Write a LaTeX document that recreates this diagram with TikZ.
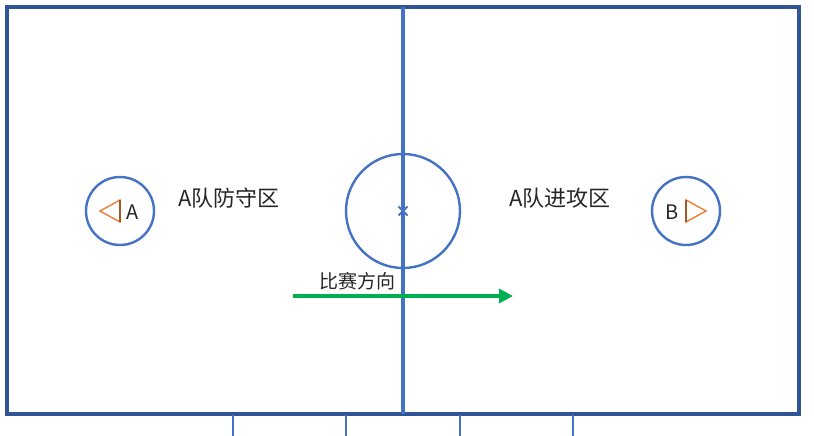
\documentclass[tikz,border=0pt]{standalone}
\usepackage{fontspec}
\setmainfont{Noto Sans CJK SC}
\usepackage{tikz}
\usetikzlibrary{arrows.meta}

\definecolor{rinkedge}{HTML}{2F5597}
\definecolor{rinkblue}{HTML}{4472C4}
\definecolor{puckorange}{HTML}{ED7D31}
\definecolor{playgreen}{HTML}{00B050}

\begin{document}
\begin{tikzpicture}[x=1pt,y=-1pt,
  ring/.style={circle,draw=rinkblue,line width=2.4pt,inner sep=0pt},
  zone/.style={font=\fontsize{22}{24}\selectfont,text=black!85},
  tick/.style={draw=rinkblue,line width=2.4pt}]
\useasboundingbox (0,0) rectangle (814,436);

% rink and centre line
\draw[rinkedge,line width=3.5pt] (7,7) rectangle (799,414);
\node[ring,minimum size=114pt] (mid) at (403,211) {};
\draw[rinkblue,line width=1.8pt] (398.5,206.5) -- (407.5,215.5) (398.5,215.5) -- (407.5,206.5);
\coordinate (ctop) at (403,7);
\coordinate (cbot) at (403,414);
\draw[rinkblue,line width=4.5pt] (ctop) -- (cbot);

% goal circles
\node[ring,minimum size=68pt] (goalA) at (120,211) {};
\node[ring,minimum size=68pt] (goalB) at (686,211) {};
\draw[puckorange,line width=1.4pt,line join=miter] (120,200) -- (100,211) -- (120,222) -- cycle;
\draw[puckorange!70!black,line width=1.4pt] (120,200) -- (120,222);
\draw[puckorange,line width=1.4pt,line join=miter] (686,200) -- (706,211) -- (686,222) -- cycle;
\draw[puckorange!70!black,line width=1.4pt] (686,200) -- (686,222);
\node[zone,font=\fontsize{20}{22}\selectfont] (labA) at (133,212) {A};
\node[zone,font=\fontsize{20}{22}\selectfont] (labB) at (672,212) {B};

% zones
\node[zone] (defend) at (229,198) {A队防守区};
\node[zone] (attack) at (560,198) {A队进攻区};

% direction of play
\coordinate (dirL) at (293,296);
\coordinate (dirR) at (513,296);
\draw[playgreen,line width=4pt,-{Triangle[length=14pt,width=14pt]}] (dirL) -- (dirR);
\node[zone,font=\fontsize{19}{21}\selectfont] (dirtext) at (357,281) {比赛方向};

% marks below the rink
\foreach \tx in {233,346,460,573}
  \draw[tick] (\tx,415) -- (\tx,436);
\end{tikzpicture}
\end{document}
